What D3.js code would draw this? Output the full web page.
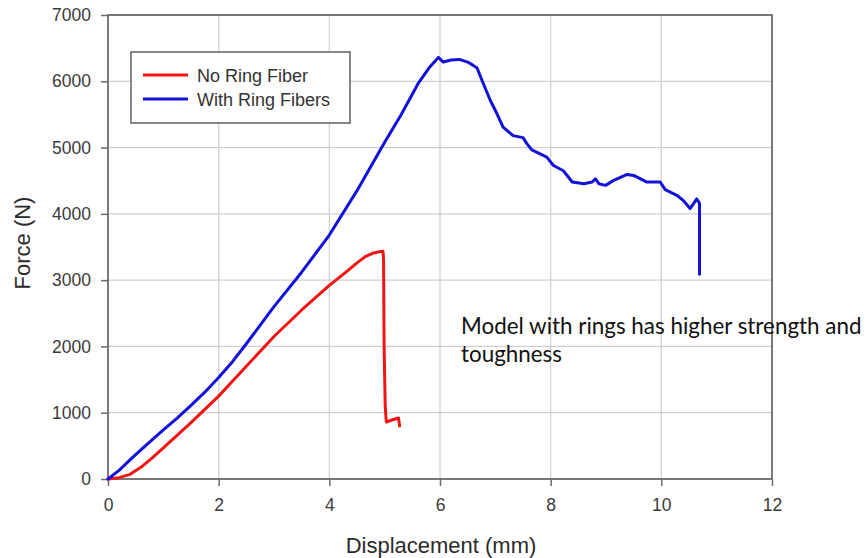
<!DOCTYPE html>
<html>
<head>
<meta charset="utf-8">
<script src="https://cdn.jsdelivr.net/npm/d3@7"></script>
<style>
  html, body { margin: 0; padding: 0; background: #fff; }
  svg { display: block; }
</style>
</head>
<body>
<svg id="chart" width="867" height="558"></svg>
<script>
// ---- Data ----
const xTicks = [0, 2, 4, 6, 8, 10, 12];
const yTicks = [0, 1000, 2000, 3000, 4000, 5000, 6000, 7000];

const noRingX = [0, 0.2, 0.4, 0.6, 0.8, 1.0, 1.5, 2.0, 2.5, 3.0, 3.5, 4.0, 4.3, 4.5, 4.65, 4.8, 4.9, 4.97, 4.98, 4.99, 5.01, 5.03, 5.13, 5.25, 5.27];
const noRingY = [0, 20, 70, 180, 320, 470, 850, 1250, 1700, 2150, 2550, 2920, 3120, 3260, 3355, 3410, 3428, 3435, 3300, 2000, 1100, 860, 890, 920, 800];

const ringX = [0, 0.2, 0.45, 0.7, 1.0, 1.25, 1.5, 1.75, 2.0, 2.25, 2.5, 3.0, 3.5, 4.0, 4.5, 5.0, 5.3, 5.6, 5.8, 5.97, 6.06, 6.2, 6.35, 6.5, 6.6, 6.67, 6.78, 6.91, 7.03, 7.14, 7.32, 7.5, 7.57, 7.66, 7.93, 8.05, 8.23, 8.39, 8.6, 8.75, 8.81, 8.87, 8.99, 9.14, 9.38, 9.5, 9.74, 9.98, 10.07, 10.28, 10.4, 10.52, 10.64, 10.69, 10.69];
const ringY = [0, 130, 330, 520, 740, 920, 1110, 1310, 1530, 1770, 2040, 2600, 3120, 3680, 4350, 5080, 5500, 5960, 6200, 6360, 6290, 6320, 6330, 6290, 6240, 6200, 5970, 5710, 5510, 5310, 5180, 5150, 5060, 4965, 4855, 4730, 4650, 4480, 4455, 4480, 4530, 4455, 4430, 4505, 4595, 4580, 4480, 4480, 4365, 4280, 4200, 4080, 4225, 4160, 3090];

const seriesNames = ["No Ring Fiber", "With Ring Fibers"];
const seriesColors = ["#f01414", "#1212d8"];
const annotation = ["Model with rings has higher strength and", "toughness"];

// ---- Layout ----
const svg = d3.select("#chart");
const m = { left: 108, top: 15, right: 772, bottom: 479 };

const x = d3.scaleLinear().domain([0, 12]).range([m.left, m.right]);
const y = d3.scaleLinear().domain([0, 7000]).range([m.bottom, m.top]);

const axisColor = "#6a6a6a";
const gridColor = "#cfcfcf";
const font = "'Liberation Sans', Arial, sans-serif";

// grid
svg.append("g").selectAll("line.v").data(xTicks.slice(1, -1)).join("line")
  .attr("x1", d => x(d)).attr("x2", d => x(d))
  .attr("y1", m.top).attr("y2", m.bottom)
  .attr("stroke", gridColor).attr("stroke-width", 1.2);
svg.append("g").selectAll("line.h").data(yTicks.slice(1, -1)).join("line")
  .attr("x1", m.left).attr("x2", m.right)
  .attr("y1", d => y(d)).attr("y2", d => y(d))
  .attr("stroke", gridColor).attr("stroke-width", 1.2);

// axes
const xAxis = d3.axisBottom(x).tickValues(xTicks).tickSize(7).tickPadding(13).tickFormat(d3.format("d"));
const yAxis = d3.axisLeft(y).tickValues(yTicks).tickSize(7).tickPadding(10).tickFormat(d3.format("d"));

const gx = svg.append("g").attr("transform", `translate(0,${m.bottom})`).call(xAxis);
const gy = svg.append("g").attr("transform", `translate(${m.left},0)`).call(yAxis);
[gx, gy].forEach(g => {
  g.select(".domain").remove();
  g.selectAll(".tick line").attr("stroke", axisColor).attr("stroke-width", 1.5);
  g.selectAll(".tick text").attr("fill", "#3a3a3a").style("font-family", font).style("font-size", "17.5px");
});

// frame
svg.append("rect")
  .attr("x", m.left).attr("y", m.top)
  .attr("width", m.right - m.left).attr("height", m.bottom - m.top)
  .attr("fill", "none").attr("stroke", axisColor).attr("stroke-width", 1.8);

// lines
const line = d3.line().x(d => x(d[0])).y(d => y(d[1])).curve(d3.curveLinear);
const series = [
  d3.zip(noRingX, noRingY),
  d3.zip(ringX, ringY)
];
series.forEach((s, i) => {
  svg.append("path").datum(s)
    .attr("d", line)
    .attr("fill", "none")
    .attr("stroke", seriesColors[i])
    .attr("stroke-width", 3)
    .attr("stroke-linejoin", "round")
    .attr("stroke-linecap", "round");
});

// legend
const lg = svg.append("g");
lg.append("rect").attr("x", 131).attr("y", 52).attr("width", 219).attr("height", 71)
  .attr("fill", "#fff").attr("stroke", axisColor).attr("stroke-width", 1.6);
seriesNames.forEach((n, i) => {
  const yy = 75 + i * 24;
  lg.append("line").attr("x1", 143).attr("x2", 188).attr("y1", yy).attr("y2", yy)
    .attr("stroke", seriesColors[i]).attr("stroke-width", 3.2);
  lg.append("text").attr("x", 197).attr("y", yy + 7).text(n)
    .attr("fill", "#333").style("font-family", font).style("font-size", "18px");
});

// axis titles
svg.append("text").attr("x", 441).attr("y", 553)
  .attr("text-anchor", "middle").text("Displacement (mm)")
  .attr("fill", "#2a2a2a").style("font-family", font).style("font-size", "22px");
svg.append("text").attr("transform", `translate(30,${243}) rotate(-90)`)
  .attr("text-anchor", "middle").text("Force (N)")
  .attr("fill", "#2a2a2a").style("font-family", font).style("font-size", "22px");

// annotation
const ann = svg.append("text").attr("x", 461).attr("y", 334)
  .attr("fill", "#111").style("font-family", "Lato, 'Open Sans', sans-serif").style("font-size", "22.4px");
annotation.forEach((t, i) => {
  ann.append("tspan").attr("x", 461).attr("dy", i === 0 ? 0 : 28).text(t);
});
</script>
</body>
</html>
